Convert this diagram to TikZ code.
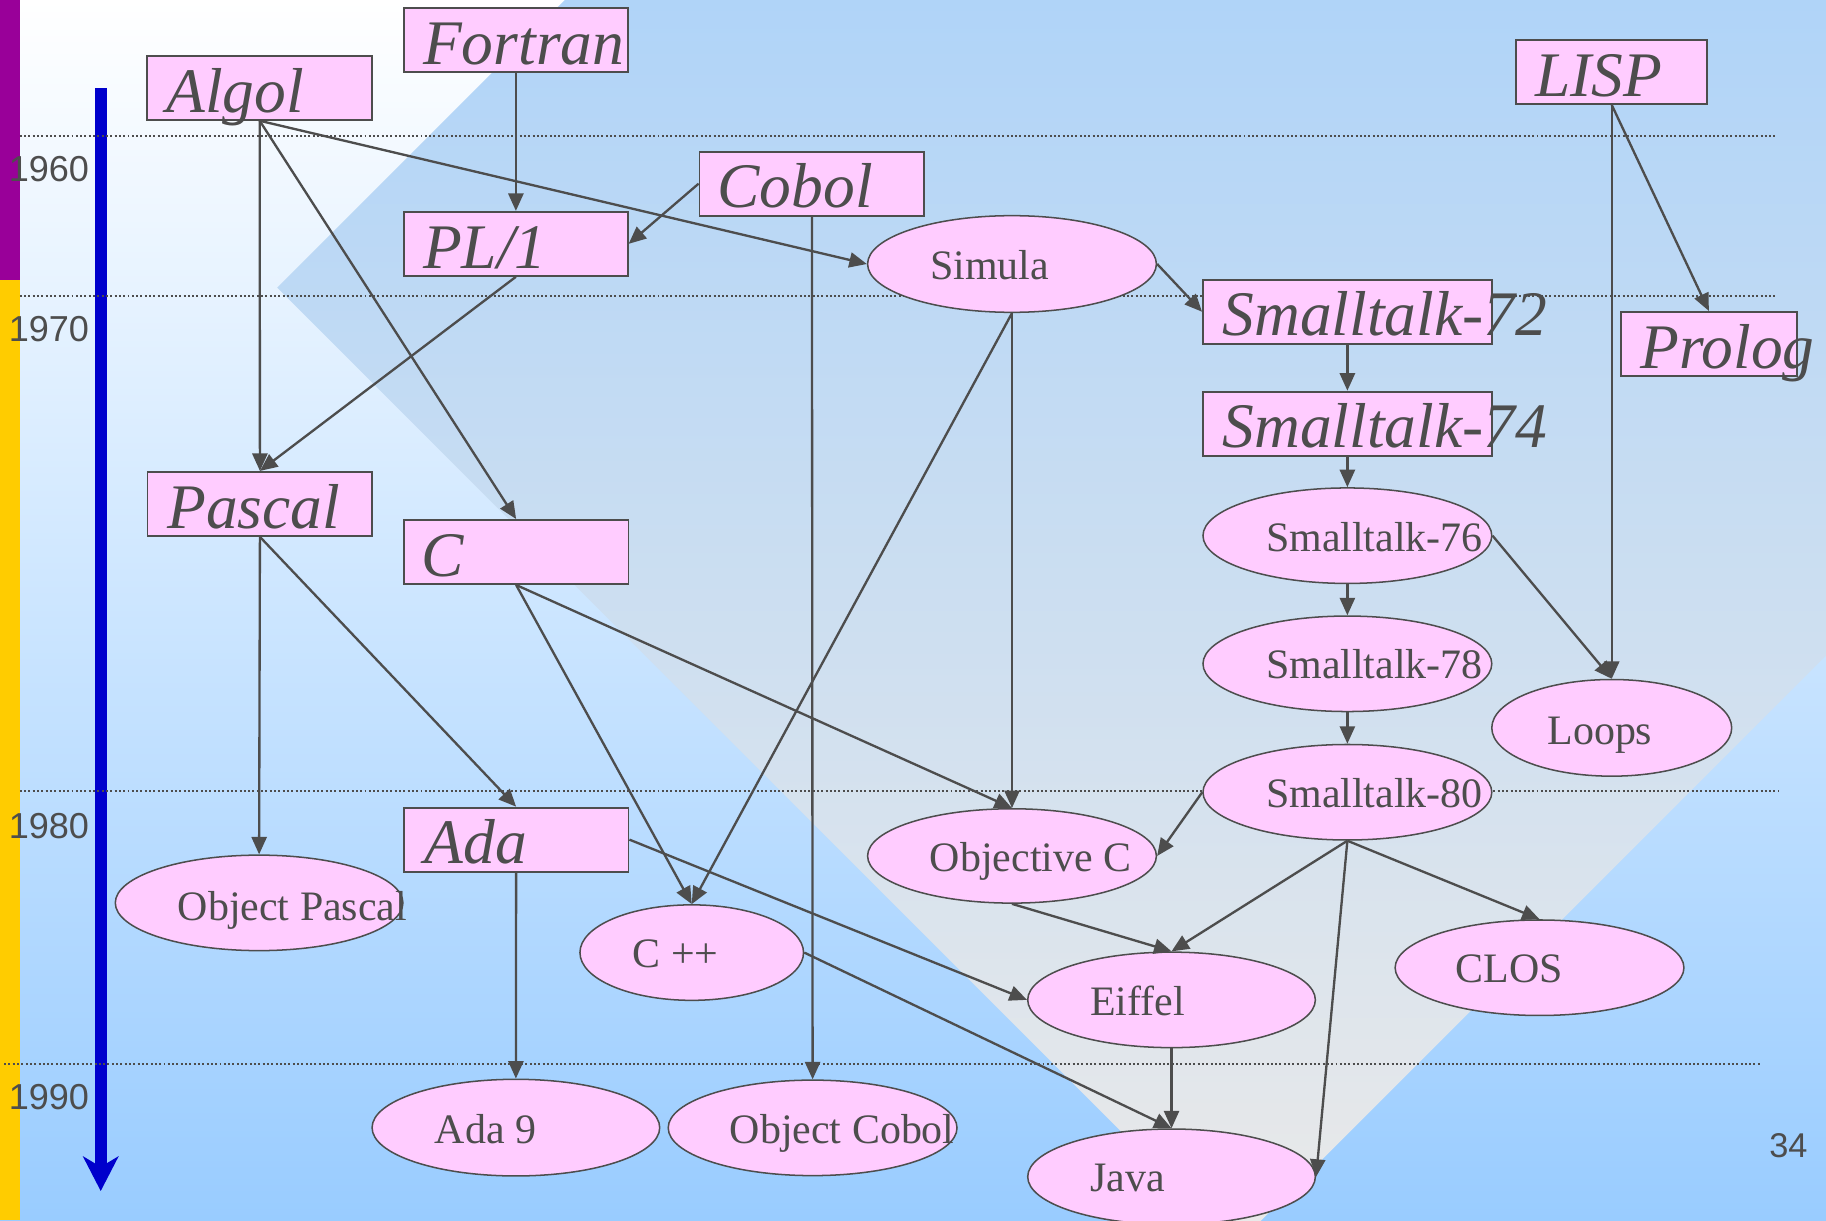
\documentclass[tikz,border=0pt]{standalone}
\usepackage{fontspec}
\setmainfont{Liberation Serif}
\newfontfamily\sansf{Liberation Sans}
\usetikzlibrary{shapes.geometric,arrows.meta,calc}
\definecolor{ink}{HTML}{4D4D4D}
\definecolor{pinkfill}{HTML}{FFCCFF}
\definecolor{bgblue}{HTML}{99CCFF}
\definecolor{diatop}{HTML}{B0D4F8}
\definecolor{diabot}{HTML}{E9E9E9}
\definecolor{stripP}{HTML}{990099}
\definecolor{stripY}{HTML}{FFCC00}
\definecolor{axisblue}{HTML}{0000CC}
\begin{document}
\begin{tikzpicture}[x=1pt,y=-1pt,
  rbox/.style={draw=ink, line width=1.6pt, fill=pinkfill, rectangle, minimum width=192pt, minimum height=55pt, inner sep=0pt},
  ebox/.style={draw=ink, line width=1.3pt, fill=pinkfill, ellipse, minimum width=248pt, minimum height=82pt, inner sep=0pt},
  rtext/.style={anchor=base west, inner sep=0pt, text=ink, font=\fontsize{54.5}{60}\selectfont\itshape},
  etext/.style={anchor=base west, inner sep=0pt, text=ink, font=\fontsize{36}{40}\selectfont},
  yeartext/.style={anchor=base, inner sep=0pt, text=ink, font=\sansf\fontsize{31}{34}\selectfont},
  conn/.style={draw=ink, line width=2pt, -{Triangle[length=15pt,width=13pt]}},
  yearline/.style={draw=ink, line width=1.6pt, dash pattern=on 1.7pt off 2pt},
]
\useasboundingbox (0,0) rectangle (1568,1048);
\begin{scope}
\clip (0,0) rectangle (1568,1048);
% background
\shade[top color=white, bottom color=bgblue] (0,0) rectangle (1568,1048);
\begin{scope}
\clip (238,247) -- (1061,-576) -- (1884,247) -- (1061,1070) -- cycle;
\shade[top color=diatop, bottom color=diabot] (0,0) rectangle (1568,1048);
\end{scope}

% left strips
\fill[stripP] (0,0) rectangle (17,240.5);
\fill[stripY] (0,240.5) rectangle (17,1048);

% year labels
\node[yeartext] (y60) at (42,156) {1960};
\node[yeartext] (y70) at (42,293.4) {1970};
\node[yeartext] (y80) at (42,719.8) {1980};
\node[yeartext] (y90) at (42,953) {1990};
\node[yeartext, font=\sansf\fontsize{29.5}{32}\selectfont] (pg) at (1535.7,993.6) {34};

% blue time arrow
\fill[axisblue] (81.5,75.6) rectangle (91.5,1000);
\fill[axisblue] (81.5,999) -- (71,992.7) -- (86.5,1022.7) -- (102,992.7) -- (91.5,999) -- cycle;

% dotted year lines
\draw[yearline] (17,116.5) -- (1526,116.5);
\draw[yearline] (17,254) -- (1526,254);
\draw[yearline] (17,679.5) -- (1527,679.5);
\draw[yearline] (3.5,914) -- (1513,914);

% rectangle nodes
\node[rbox] (fortran) at (443,34.2) {};
\node[rbox, minimum width=193pt] (algol) at (223,75.4) {};
\node[rbox] (pl1) at (443,209.4) {};
\node[rbox, minimum width=193pt] (cobol) at (697.2,157.7) {};
\node[rbox, minimum width=164pt] (lisp) at (1384,61.8) {};
\node[rbox, minimum width=248pt] (st72) at (1157,267.7) {};
\node[rbox, minimum width=248pt] (st74) at (1157,363.8) {};
\node[rbox, minimum width=151pt] (prolog) at (1467.4,295.3) {};
\node[rbox, minimum width=193pt] (pascal) at (223.2,432.7) {};
\node[rbox, minimum width=193pt] (c) at (443.2,474) {};
\node[rbox, minimum width=193pt] (ada) at (443.2,721) {};

% ellipse nodes
\node[ebox, minimum height=83pt] (simula) at (869,226.7) {};
\node[ebox] (st76) at (1157,460) {};
\node[ebox] (st78) at (1157,570) {};
\node[ebox] (st80) at (1157,680.3) {};
\node[ebox, minimum width=206pt, minimum height=83pt] (loops) at (1384,625) {};
\node[ebox, minimum height=81pt] (objc) at (869,735) {};
\node[ebox, minimum width=247pt] (eiffel) at (1006,858.6) {};
\node[ebox] (clos) at (1322,831) {};
\node[ebox, minimum width=247pt] (java) at (1006,1010.5) {};
\node[ebox] (ocobol) at (697.8,968.5) {};
\node[ebox, minimum width=247pt, minimum height=83pt] (ada9) at (443,968.3) {};
\node[ebox, minimum width=247pt] (opascal) at (222.5,775.3) {};
\node[ebox, minimum width=192pt] (cpp) at (594,818) {};

% connectors
\draw[conn] (fortran.south) -- (pl1.north);
\draw[conn] (algol.south) -- (pascal.north);
\draw[conn] (algol.south) -- (c.north);
\draw[conn] (algol.south) -- (simula.west);
\draw[conn] (cobol.west) -- (pl1.east);
\draw[conn] (cobol.south) -- (ocobol.north);
\draw[conn] (pl1.south) -- (pascal.north);
\draw[conn] (simula.south) -- (objc.north);
\draw[conn] (simula.south) -- (cpp.north);
\draw[conn] (simula.east) -- (st72.west);
\draw[conn] (st72.south) -- (st74.north);
\draw[conn] (st74.south) -- (st76.north);
\draw[conn] (st76.south) -- (st78.north);
\draw[conn] (st78.south) -- (st80.north);
\draw[conn] (st76.east) -- (loops.north);
\draw[conn] (lisp.south) -- (loops.north);
\draw[conn] (lisp.south) -- (prolog.north);
\draw[conn] (pascal.south) -- (opascal.north);
\draw[conn] (pascal.south) -- (ada.north);
\draw[conn] (c.south) -- (cpp.north);
\draw[conn] (c.south) -- (objc.north);
\draw[conn] (ada.south) -- (ada9.north);
\draw[conn] (ada.east) -- (eiffel.west);
\draw[conn] (cpp.east) -- (java.north);
\draw[conn] (objc.south) -- (eiffel.north);
\draw[conn] (st80.west) -- (objc.east);
\draw[conn] (st80.south) -- (eiffel.north);
\draw[conn] (st80.south) -- (java.east);
\draw[conn] (st80.south) -- (clos.north);
\draw[conn] (eiffel.south) -- (java.north);

% rectangle labels
\node[rtext] (tfortran) at ($(fortran.south west)+(17,-7.5)$) {Fortran};
\node[rtext] (talgol) at ($(algol.south west)+(17,-7.5)$) {Algol};
\node[rtext] (tpl1) at ($(pl1.south west)+(17,-7.5)$) {PL/1};
\node[rtext] (tcobol) at ($(cobol.south west)+(16,-7.5)$) {Cobol};
\node[rtext] (tlisp) at ($(lisp.south west)+(17,-7.5)$) {LISP};
\node[rtext] (tst72) at ($(st72.south west)+(17.5,-7.5)$) {Smalltalk-72};
\node[rtext] (tst74) at ($(st74.south west)+(17.5,-7.5)$) {Smalltalk-74};
\node[rtext] (tprolog) at ($(prolog.south west)+(17.5,-7.5)$) {Prolog};
\node[rtext] (tpascal) at ($(pascal.south west)+(17.5,-7.5)$) {Pascal};
\node[rtext] (tc) at ($(c.south west)+(16,-7.5)$) {C};
\node[rtext] (tada) at ($(ada.south west)+(18.5,-7.5)$) {Ada};

% ellipse labels
\node[etext] (tsimula) at ($(simula.center)+(-70.5,13.3)$) {Simula};
\node[etext] (tst76) at ($(st76.center)+(-70,13.8)$) {Smalltalk-76};
\node[etext] (tst78) at ($(st78.center)+(-70,13)$) {Smalltalk-78};
\node[etext] (tst80) at ($(st80.center)+(-70,12.7)$) {Smalltalk-80};
\node[etext] (tloops) at ($(loops.center)+(-55.4,14.5)$) {Loops};
\node[etext] (tobjc) at ($(objc.center)+(-70.7,13)$) {Objective C};
\node[etext] (teiffel) at ($(eiffel.center)+(-70,13)$) {Eiffel};
\node[etext] (tclos) at ($(clos.center)+(-72,13)$) {CLOS};
\node[etext] (tjava) at ($(java.center)+(-70,12.5)$) {Java};
\node[etext] (tocobol) at ($(ocobol.center)+(-71.3,13.5)$) {Object Cobol};
\node[etext] (tada9) at ($(ada9.center)+(-69.7,14)$) {Ada 9};
\node[etext] (topascal) at ($(opascal.center)+(-70,15)$) {Object Pascal};
\node[etext] (tcpp) at ($(cpp.center)+(-51,13)$) {C ++};
\end{scope}
\end{tikzpicture}
\end{document}
